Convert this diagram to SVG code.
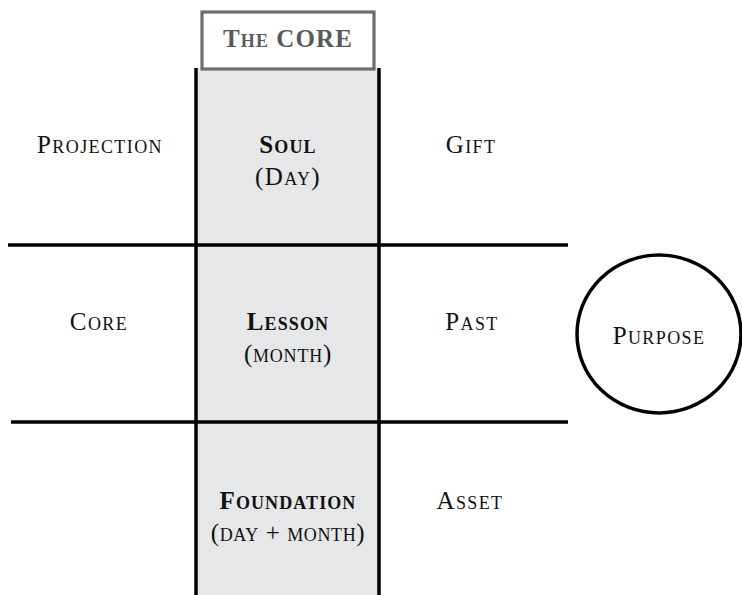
<svg xmlns="http://www.w3.org/2000/svg" width="742" height="595" viewBox="0 0 742 595">
<style>
text{font-family:"Liberation Serif","DejaVu Serif",serif;font-size:25px;fill:#111;text-anchor:middle;font-variant:small-caps;letter-spacing:1.4px}
.b{font-weight:bold;letter-spacing:1.1px}
.line{stroke:#000;stroke-width:3.5;fill:none}
</style>
<rect width="742" height="595" fill="#fff"/>
<g id="core-column">
<rect x="196" y="68" width="184" height="527" fill="#e6e7e8"/>
</g>
<g id="grid">
<line class="line" x1="196" y1="68" x2="196" y2="595"/>
<line class="line" x1="379" y1="68" x2="379" y2="595"/>
<line class="line" x1="8" y1="245" x2="568" y2="245"/>
<line class="line" x1="11" y1="422" x2="568" y2="422"/>
</g>
<g id="title">
<rect x="202" y="12" width="172" height="57" fill="#fff" stroke="#6d6e70" stroke-width="3.2"/>
<text x="288" y="47" class="b" style="fill:#58595b">The CORE</text>
</g>
<g id="projection"><text x="100" y="153">Projection</text></g>
<g id="soul"><text x="288" y="153" class="b">Soul</text><text x="288" y="185">(Day)</text></g>
<g id="gift"><text x="471" y="153">Gift</text></g>
<g id="core"><text x="99" y="330">Core</text></g>
<g id="lesson"><text x="288" y="330" class="b">Lesson</text><text x="288" y="362" style="letter-spacing:0.8px">(month)</text></g>
<g id="past"><text x="472" y="330">Past</text></g>
<g id="purpose">
<ellipse cx="659" cy="334" rx="82" ry="79" class="line"/>
<text x="659" y="344">Purpose</text>
</g>
<g id="foundation"><text x="288" y="509" class="b">Foundation</text><text x="288" y="541" style="letter-spacing:0.6px">(day + month)</text></g>
<g id="asset"><text x="470" y="509">Asset</text></g>
</svg>
